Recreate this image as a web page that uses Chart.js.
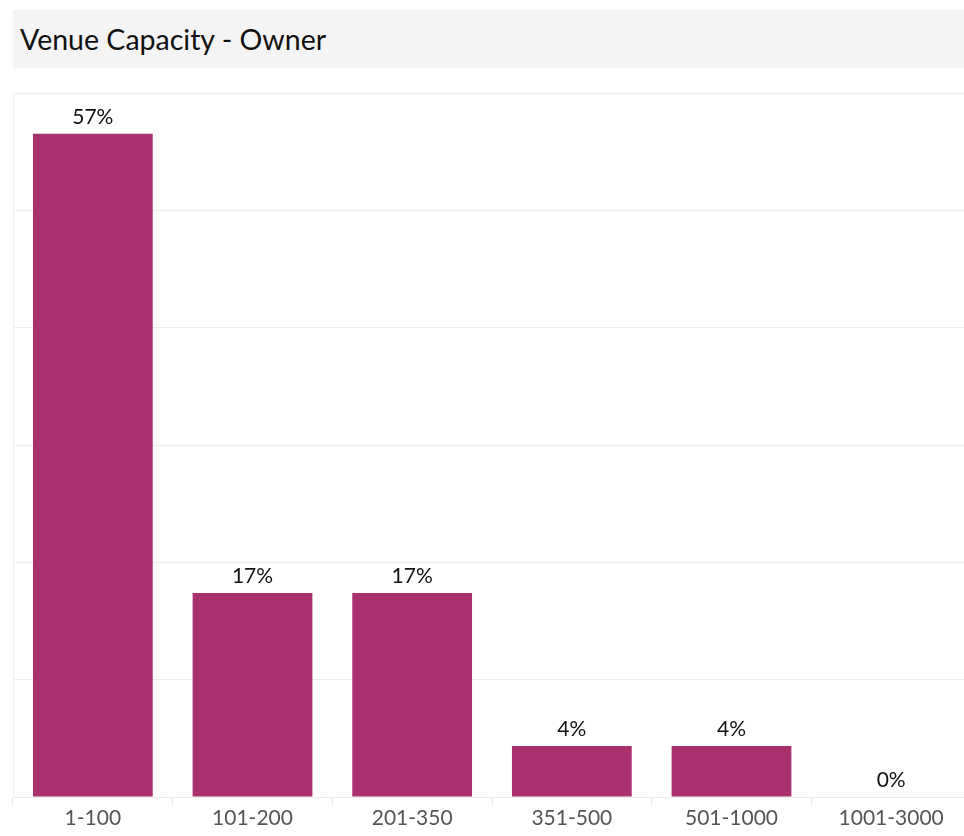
<!DOCTYPE html>
<html>
<head>
<meta charset="utf-8">
<script src="https://cdn.jsdelivr.net/npm/chart.js@4/dist/chart.umd.min.js"></script>
<style>
  html, body { margin: 0; padding: 0; background: #fff; overflow: hidden; width: 964px; height: 836px; }
  #title {
    position: absolute; left: 13px; top: 10px; width: 951px; height: 58px;
    background: #f4f4f4; font-family: Lato, "Open Sans", sans-serif; font-size: 28.5px;
    color: #111; line-height: 58px; padding-left: 7px; box-sizing: border-box;
  }
  #wrap { position: absolute; left: 11px; top: 80px; width: 960px; height: 756px; }
</style>
</head>
<body>
<div id="title">Venue Capacity - Owner</div>
<div id="wrap"><canvas id="chart"></canvas></div>
<script>
// categories and share of venues (%)
const categories = ["1-100", "101-200", "201-350", "351-500", "501-1000", "1001-3000"];
const shares = [56.52, 17.39, 17.39, 4.35, 4.35, 0];
const yTicks = [0, 10, 20, 30, 40, 50, 60];

// labels au-dessus des barres
const valueLabels = {
  id: "valueLabels",
  afterDatasetsDraw(chart) {
    const ctx = chart.ctx;
    const meta = chart.getDatasetMeta(0);
    ctx.save();
    ctx.font = "21px Lato, 'Open Sans', sans-serif";
    ctx.fillStyle = "#111";
    ctx.textAlign = "center";
    ctx.textBaseline = "bottom";
    meta.data.forEach((bar, i) => {
      ctx.fillText(Math.round(shares[i]) + "%", bar.x, bar.y - 6);
    });
    ctx.restore();
  }
};

new Chart(document.getElementById("chart"), {
  type: "bar",
  data: {
    labels: categories,
    datasets: [{
      data: shares,
      backgroundColor: "#a8316e",
      categoryPercentage: 1,
      barPercentage: 0.75
    }]
  },
  options: {
    responsive: true,
    maintainAspectRatio: false,
    animation: false,
    layout: { padding: { top: 13, left: 0, right: 0, bottom: 0 } },
    plugins: { legend: { display: false }, tooltip: { enabled: false } },
    scales: {
      x: {
        offset: true,
        grid: { offset: true, drawOnChartArea: false, tickLength: 8, color: "#e4e4e4" },
        border: { color: "#ececec" },
        ticks: { color: "#555", font: { size: 21, family: "Lato, 'Open Sans', sans-serif" }, padding: 1 },
        afterFit(scale) { scale.height = 39; }
      },
      y: {
        min: 0,
        max: 60,
        afterBuildTicks(scale) { scale.ticks = yTicks.map(v => ({ value: v })); },
        ticks: { display: false },
        grid: { color: "#eeeeee", tickLength: 0 },
        border: { color: "#eeeeee" },
        afterFit(scale) { scale.width = 2; }
      }
    }
  },
  plugins: [valueLabels]
});
</script>
</body>
</html>
